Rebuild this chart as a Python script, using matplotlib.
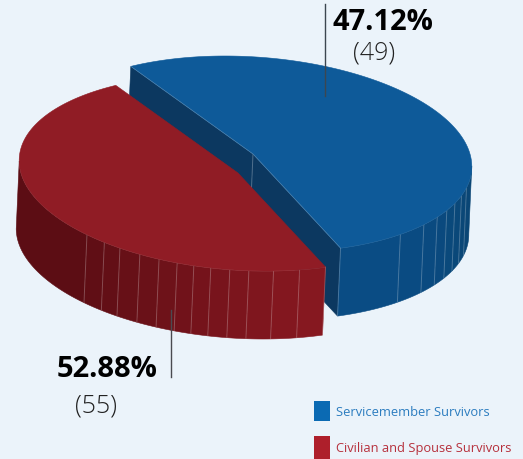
import numpy as np
import matplotlib
matplotlib.use('Agg')
import matplotlib.pyplot as plt
from matplotlib.patches import Polygon, Rectangle

labels = ['Servicemember Survivors', 'Civilian and Spouse Survivors']
percent_text = ['47.12%', '52.88%']
count_text = ['(49)', '(55)']
# the source draws the blue wedge with the larger share, so sweeps are kept apart from labels
drawn_share = [52.88, 47.12]

BG = '#ebf3fa'
BLUE_TOP = '#0e5a99'
BLUE_CUT = '#0c3860'
RED_TOP = '#901c25'

# projection of the tilted disc onto the picture
RX = 217
SHEAR = 28
RY = 98
DEPTH_X = -3
DEPTH_Y = 68
START = -116.6
blue_centre = (253, 155)
red_centre = (238, 174)


def project(centre, t):
    t = np.radians(t)
    u, v = np.cos(t), np.sin(t)
    return np.column_stack([centre[0] + RX * u + SHEAR * v, centre[1] + RY * v])


def down(pts):
    return pts + np.array([DEPTH_X, DEPTH_Y])


def mix(c1, c2, f):
    c1 = np.array(matplotlib.colors.to_rgb(c1))
    c2 = np.array(matplotlib.colors.to_rgb(c2))
    return tuple(c1 + (c2 - c1) * f)


def draw_wall(ax, centre, stops, c0, c1, z):
    # one flat facet between each pair of stops, thin light rib at the joins
    for i in range(len(stops) - 1):
        top = project(centre, np.linspace(stops[i], stops[i + 1], 30))
        poly = np.vstack([top, down(top)[::-1]])
        col = mix(c0, c1, i / max(len(stops) - 2, 1))
        ax.add_patch(Polygon(poly, closed=True, fc=col, ec=col, lw=0.4, zorder=z))
    for t in stops[:-1]:
        top = project(centre, t)
        ax.plot([top[0, 0], top[0, 0] + DEPTH_X], [top[0, 1], top[0, 1] + DEPTH_Y],
                color='white', alpha=0.22, lw=0.7, zorder=z + 0.1)
    top = project(centre, np.linspace(stops[0], stops[-1], 200))
    ax.plot(top[:, 0], top[:, 1], color='white', alpha=0.25, lw=0.5, zorder=z + 0.1)


fig = plt.figure(figsize=(5.23, 4.60), dpi=100, facecolor=BG)
ax = fig.add_axes([0, 0, 1, 1])
ax.set_xlim(0, 523)
ax.set_ylim(460, 0)
ax.axis('off')

blue_sweep = 360 * drawn_share[0] / 100
red_sweep = 360 * drawn_share[1] / 100
t_a = START
t_b = START + blue_sweep
t_c = t_b + red_sweep

# blue wedge: cut faces, then wall, then top
apex = np.array([blue_centre])
a_pt = project(blue_centre, t_a)
b_pt = project(blue_centre, t_b)
for p in (a_pt, b_pt):
    face = np.vstack([apex, p, down(p), down(apex)])
    ax.add_patch(Polygon(face, closed=True, fc=BLUE_CUT, ec=BLUE_CUT, lw=0.4, zorder=1))
ax.plot([apex[0, 0], apex[0, 0] + DEPTH_X * 0.5], [apex[0, 1], apex[0, 1] + DEPTH_Y * 0.5],
        color='white', alpha=0.25, lw=0.7, zorder=1.1)
blue_stops = [t_b, 55, 46, 40, 35, 30, 25, 20, 7]
draw_wall(ax, blue_centre, blue_stops, '#0a4c84', '#0a4675', 2)
arc = project(blue_centre, np.linspace(t_a, t_b, 200))
ax.add_patch(Polygon(np.vstack([apex, arc]), closed=True, fc=BLUE_TOP, ec=BLUE_TOP, lw=0.4, zorder=3))
ax.plot([a_pt[0, 0], apex[0, 0], b_pt[0, 0]], [a_pt[0, 1], apex[0, 1], b_pt[0, 1]],
        color='white', alpha=0.25, lw=0.5, zorder=3.1)

# red wedge in front
red_stops = [t_b, 81, 88, 94.5, 99.5, 104.5, 109, 113.5, 118.5, 124, 130, 135, 141, 187]
draw_wall(ax, red_centre, red_stops, '#861820', '#5c0d14', 4)
arc = project(red_centre, np.linspace(t_b, t_c, 200))
apex_r = np.array([red_centre])
ax.add_patch(Polygon(np.vstack([apex_r, arc]), closed=True, fc=RED_TOP, ec=RED_TOP, lw=0.4, zorder=5))

# leader lines
ax.plot([325, 325], [5, 97], color='#3c4650', lw=1.0, zorder=6)
ax.plot([171, 171], [311, 378], color='#4a4a50', lw=1.0, zorder=6)

# value labels
font = 'Open Sans'
ax.text(383, 23, percent_text[0], ha='center', va='center', fontsize=21, fontweight='bold',
        family=font, color='black', zorder=7)
ax.text(374, 53, count_text[0], ha='center', va='center', fontsize=18, fontweight='light',
        family=font, color='#222222', zorder=7)
ax.text(107, 370, percent_text[1], ha='center', va='center', fontsize=21, fontweight='bold',
        family=font, color='black', zorder=7)
ax.text(96, 406, count_text[1], ha='center', va='center', fontsize=18, fontweight='light',
        family=font, color='#222222', zorder=7)

# legend
ax.add_patch(Rectangle((314, 402), 16, 20, fc='#0b6ab3', ec='none', zorder=7))
ax.add_patch(Rectangle((314, 437), 16, 23, fc='#ae1f2b', ec='none', zorder=7))
ax.text(336, 413, labels[0], ha='left', va='center', fontsize=9.25, family=font, color='#2b7cbf', zorder=7)
ax.text(336, 449, labels[1], ha='left', va='center', fontsize=9.25, family=font, color='#b6303c', zorder=7)

fig.savefig('out.png', dpi=100, facecolor=BG)
